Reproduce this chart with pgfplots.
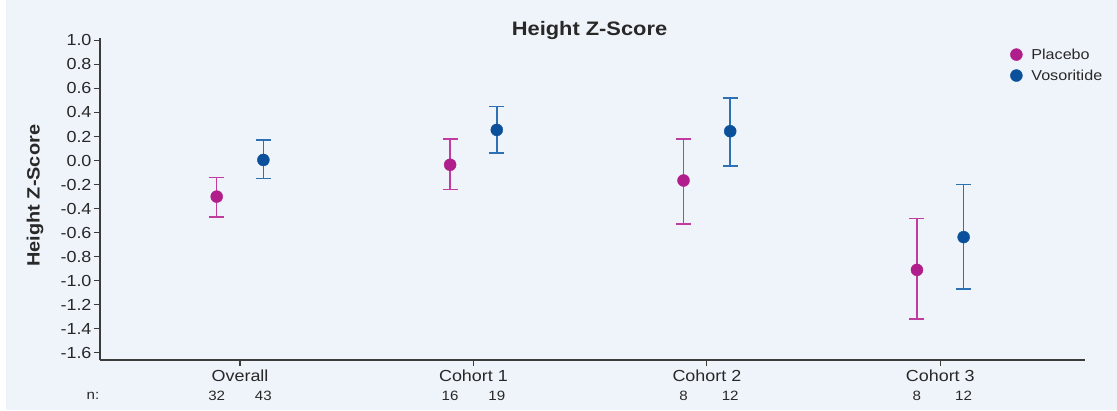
\documentclass[border=0pt]{standalone}
\usepackage{pgfplots}
\pgfplotsset{compat=1.18}
\usepackage{pgfplotstable}
\usepackage{fontspec}
\setmainfont{Liberation Sans}[FakeStretch=1.12]
\definecolor{bgblue}{RGB}{239,244,251}
\definecolor{plac}{RGB}{176,30,140}
\definecolor{placeb}{RGB}{192,60,160}
\definecolor{voso}{RGB}{10,80,155}
\definecolor{vosoeb}{RGB}{45,112,180}
\definecolor{axgray}{RGB}{60,60,60}
\definecolor{txt}{RGB}{40,40,40}
\tikzset{nlab/.style={font=\fontsize{13.5}{15}\selectfont, text=txt}}
\pgfplotstableread{
x y ep em
-0.1 -0.30 0.16 0.17
0.9 -0.035 0.215 0.205
1.9 -0.166 0.346 0.364
2.9 -0.91 0.426 0.41
}\placebo
\pgfplotstableread{
x y ep em
0.1 0.005 0.165 0.155
1.1 0.255 0.195 0.191
2.1 0.244 0.276 0.288
3.1 -0.637 0.437 0.433
}\vosor
\begin{document}
\begin{tikzpicture}
\fill[white] (0,0) rectangle (1117pt,410pt);
\fill[bgblue] (6pt,0) rectangle (1117pt,410pt);
\begin{axis}[
  at={(100pt,50pt)}, anchor=south west,
  scale only axis, width=985pt, height=322pt,
  xmin=-0.6, xmax=3.62, ymin=-1.66, ymax=1.02,
  axis lines=left, axis line style={-, draw=axgray, line width=1.2pt},
  clip=false,
  xtick={0,1,2,3}, xticklabels={Overall,Cohort 1,Cohort 2,Cohort 3},
  ytick={-1.6,-1.4,...,1.01},
  yticklabel style={xshift=1pt},
  y tick label style={/pgf/number format/.cd, fixed, fixed zerofill, precision=1},
  /pgf/number format/assume math mode=true,
  tick align=outside, major tick length=6pt,
  tick style={draw=axgray, line width=1.1pt},
  ticklabel style={font=\fontsize{16}{18}\selectfont, text=txt},
  xticklabel style={yshift=0pt},
  title={\bfseries Height Z-Score},
  title style={at={(rel axis cs:0.497,1.006)}, anchor=center, font=\fontsize{19.5}{21}\selectfont, text=txt},
  ylabel={\bfseries Height Z-Score},
  ylabel style={at={(rel axis cs:-0.066,0.51)}, anchor=center, font=\fontsize{17.8}{20}\selectfont, text=txt},
  legend style={at={(rel axis cs:0.921,0.98)}, anchor=north west, draw=none, fill=none,
    font=\fontsize{14.4}{16}\selectfont, text=txt, row sep=5pt, column sep=7pt},
  legend cell align=left,
]
\addplot[only marks, mark=*, mark size=6pt, color=plac, mark options={draw=plac, fill=plac},
  error bars/.cd, y dir=both, y explicit,
  error bar style={color=placeb, line width=1.5pt},
  error mark options={rotate=90, mark size=7.5pt, line width=1.5pt, color=placeb}]
  table[x=x, y=y, y error plus=ep, y error minus=em]{\placebo};
\addplot[only marks, mark=*, mark size=6pt, color=voso, mark options={draw=voso, fill=voso},
  error bars/.cd, y dir=both, y explicit,
  error bar style={color=vosoeb, line width=1.5pt},
  error mark options={rotate=90, mark size=7.5pt, line width=1.5pt, color=vosoeb}]
  table[x=x, y=y, y error plus=ep, y error minus=em]{\vosor};
\legend{Placebo,Vosoritide}
\node[nlab] at (axis cs:-0.63,-1.96) {n:};
\node[nlab] at (axis cs:-0.1,-1.96) {32};
\node[nlab] at (axis cs:0.1,-1.96) {43};
\node[nlab] at (axis cs:0.9,-1.96) {16};
\node[nlab] at (axis cs:1.1,-1.96) {19};
\node[nlab] at (axis cs:1.9,-1.96) {8};
\node[nlab] at (axis cs:2.1,-1.96) {12};
\node[nlab] at (axis cs:2.9,-1.96) {8};
\node[nlab] at (axis cs:3.1,-1.96) {12};
\end{axis}
\end{tikzpicture}
\end{document}
